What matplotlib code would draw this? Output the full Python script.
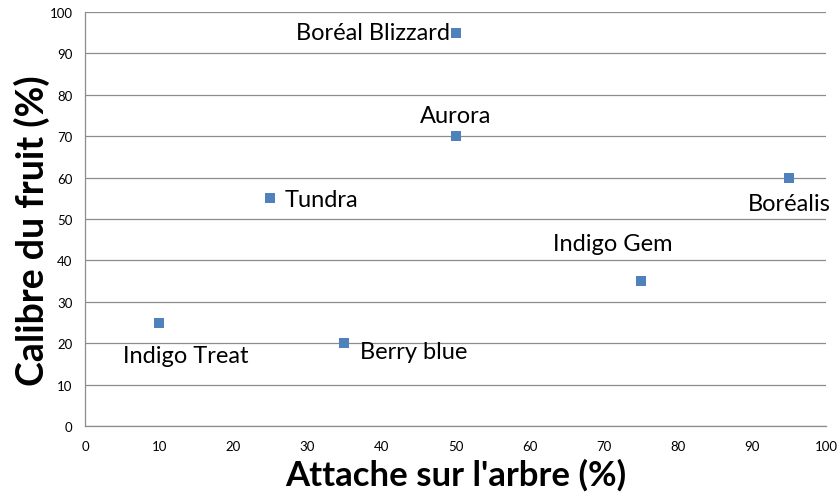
import matplotlib
matplotlib.use("Agg")
import matplotlib.pyplot as plt

varieties = ["Boréal Blizzard", "Aurora", "Tundra", "Boréalis", "Indigo Gem",
             "Indigo Treat", "Berry blue"]
attache = [50, 50, 25, 95, 75, 10, 35]
calibre = [95, 70, 55, 60, 35, 25, 20]
x_ticks = list(range(0, 101, 10))
y_ticks = list(range(0, 101, 10))

# label offsets in points (dx, dy) and horizontal alignment
offsets = {
    "Boréal Blizzard": ((-4, 0), "right"),
    "Aurora": ((0, 15), "center"),
    "Tundra": ((10, -1), "left"),
    "Boréalis": ((0, -19), "center"),
    "Indigo Gem": ((-20, 27), "center"),
    "Indigo Treat": ((19, -24), "center"),
    "Berry blue": ((11.5, -6), "left"),
}

plt.rcParams['font.family'] = ['Lato', 'DejaVu Sans']

fig = plt.figure(figsize=(8.4, 5.02), dpi=100)
ax = fig.add_axes([85/840, 1-427/502, (826-85)/840, (427-13)/502])

ax.scatter(attache, calibre, marker='s', s=42, color='#4F81BD', zorder=3,
           linewidths=0)

for name, x, y in zip(varieties, attache, calibre):
    (dx, dy), ha = offsets[name]
    ax.annotate(name, (x, y), xytext=(dx, dy), textcoords='offset points',
                ha=ha, va='center', fontsize=17, color='#000000')

ax.set_xlim(0, 100)
ax.set_ylim(0, 100)
ax.set_xticks(x_ticks)
ax.set_yticks(y_ticks)
ax.tick_params(axis='both', length=0, labelsize=9.5)
ax.tick_params(axis='y', pad=9)
ax.tick_params(axis='x', pad=10)
ax.yaxis.grid(True, color='#8c8c8c', linewidth=0.9)
ax.set_axisbelow(True)
for s in ['top', 'right']:
    ax.spines[s].set_visible(False)
for s in ['left', 'bottom']:
    ax.spines[s].set_color('#8c8c8c')
    ax.spines[s].set_linewidth(0.9)

ax.set_xlabel("Attache sur l'arbre (%)", fontsize=25, fontweight='bold')
ax.set_ylabel("Calibre du fruit (%)", fontsize=27, fontweight='bold')
ax.xaxis.set_label_coords(0.5, -32/414, transform=ax.transAxes)
ax.yaxis.set_label_coords(-35/741, 0.473, transform=ax.transAxes)

fig.savefig("out.png", dpi=100)
